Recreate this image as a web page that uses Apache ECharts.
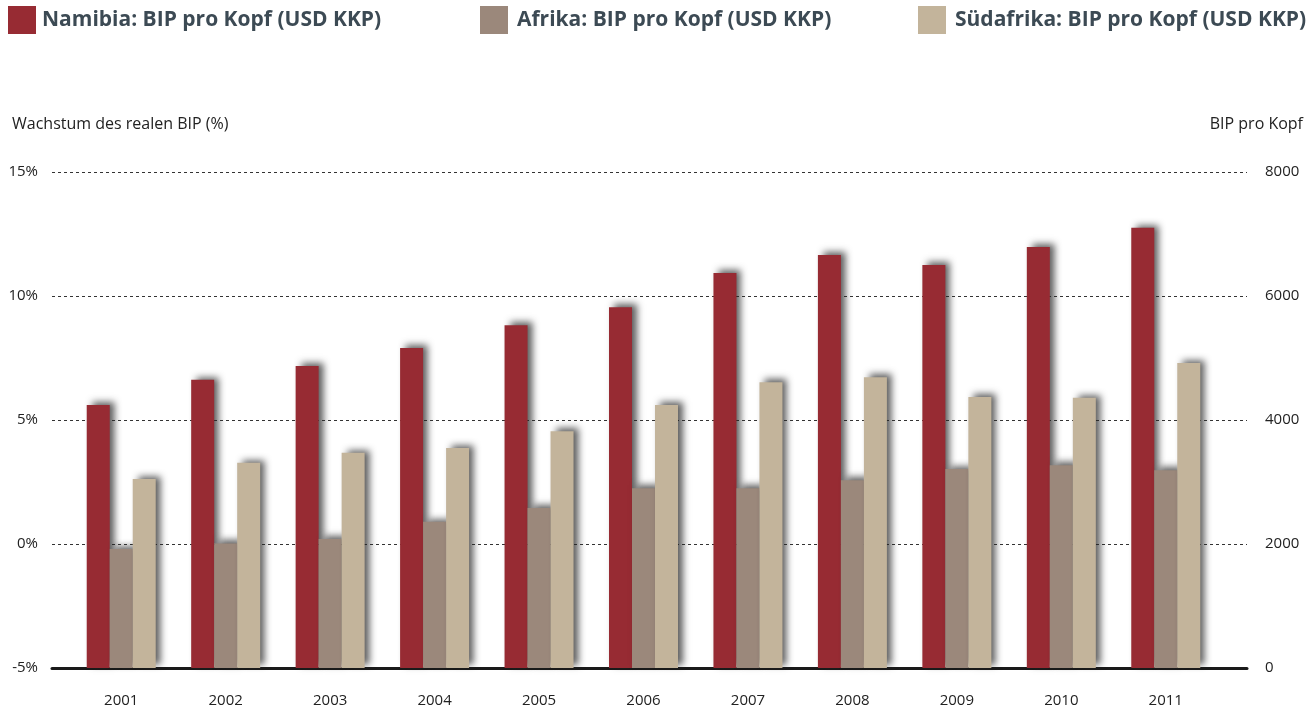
<!DOCTYPE html>
<html>
<head>
<meta charset="utf-8">
<script src="https://cdn.jsdelivr.net/npm/echarts@6/dist/echarts.min.js"></script>
<style>
    html, body { margin: 0; padding: 0; background: #fff; }
    #chart { width: 1315px; height: 709px; }
</style>
</head>
<body>
<div id="chart"></div>
<script>
    // Jahre und Werte (BIP pro Kopf, USD KKP)
    var years = ['2001', '2002', '2003', '2004', '2005', '2006', '2007', '2008', '2009', '2010', '2011'];
    var namibia = [4240, 4650, 4870, 5160, 5530, 5820, 6370, 6660, 6500, 6790, 7100];
    var afrika = [1920, 2010, 2080, 2360, 2580, 2900, 2900, 3030, 3210, 3270, 3190];
    var suedafrika = [3050, 3310, 3470, 3550, 3820, 4240, 4610, 4690, 4370, 4360, 4920];
    var leftTicks = {min: -5, max: 15, interval: 5};
    var rightTicks = {min: 0, max: 8000, interval: 2000};

    var names = ['Namibia: BIP pro Kopf (USD KKP)', 'Afrika: BIP pro Kopf (USD KKP)', 'Südafrika: BIP pro Kopf (USD KKP)'];
    var colors = ['#972b33', '#9b887b', '#c3b49b'];
    var font = '"Open Sans", "Noto Sans", sans-serif';

    var chart = echarts.init(document.getElementById('chart'));

    function barSeries(i, data) {
        return {
            name: names[i],
            type: 'bar',
            xAxisIndex: 1,
            yAxisIndex: 2,
            data: data,
            barWidth: 23,
            barGap: '0%',
            itemStyle: {
                color: colors[i],
                shadowColor: 'rgba(40,40,40,0.75)',
                shadowBlur: 7,
                shadowOffsetX: 5,
                shadowOffsetY: -3
            }
        };
    }

    function legendAt(i, left, gap) {
        return {
            data: [names[i]],
            left: left,
            top: 6,
            padding: 0,
            itemWidth: 28,
            itemHeight: 28,
            icon: 'rect',
            itemGap: 0,
            textStyle: {color: '#3c4a54', fontSize: 21, fontWeight: 'bold', fontFamily: font, padding: [0, 0, 0, gap]}
        };
    }

    chart.setOption({
        animation: false,
        color: colors,
        textStyle: {fontFamily: font},
        legend: [legendAt(0, 8, 1), legendAt(1, 480, 4), legendAt(2, 918, 4)],
        title: [
            {text: 'Wachstum des realen BIP (%)', left: 7, top: 111,
                textStyle: {fontSize: 16, fontWeight: 'normal', color: '#222', fontFamily: font}},
            {text: 'BIP pro Kopf', right: 7, top: 111,
                textStyle: {fontSize: 16, fontWeight: 'normal', color: '#222', fontFamily: font}}
        ],
        grid: [
            {left: 52, right: 68, top: 172, bottom: 41},
            {left: 69, right: 97, top: 172, bottom: 41}
        ],
        xAxis: [
            {
                gridIndex: 0,
                type: 'category',
                data: [''],
                axisLine: {onZero: false, lineStyle: {color: '#1a1a1a', width: 3}},
                axisTick: {show: false},
                axisLabel: {show: false}
            },
            {
                gridIndex: 1,
                type: 'category',
                data: years,
                axisLine: {show: false},
                axisTick: {show: false},
                axisLabel: {margin: 25, fontSize: 15, color: '#222', fontFamily: font}
            }
        ],
        yAxis: [
            {
                gridIndex: 0,
                type: 'value',
                position: 'left',
                min: leftTicks.min,
                max: leftTicks.max,
                interval: leftTicks.interval,
                axisLine: {show: false},
                axisTick: {show: false},
                axisLabel: {formatter: '{value}%', margin: 14, fontSize: 15, color: '#222', fontFamily: font},
                splitLine: {lineStyle: {color: '#333', type: [3, 3], width: 1}}
            },
            {
                gridIndex: 0,
                type: 'value',
                position: 'right',
                min: rightTicks.min,
                max: rightTicks.max,
                interval: rightTicks.interval,
                axisLine: {show: false},
                axisTick: {show: false},
                axisLabel: {formatter: function (v) { return String(v); }, margin: 18, fontSize: 15, color: '#222', fontFamily: font},
                splitLine: {show: false}
            },
            {
                gridIndex: 1,
                type: 'value',
                min: rightTicks.min,
                max: rightTicks.max,
                show: false
            }
        ],
        series: [
            barSeries(0, namibia),
            barSeries(1, afrika),
            barSeries(2, suedafrika)
        ]
    });
</script>
</body>
</html>
